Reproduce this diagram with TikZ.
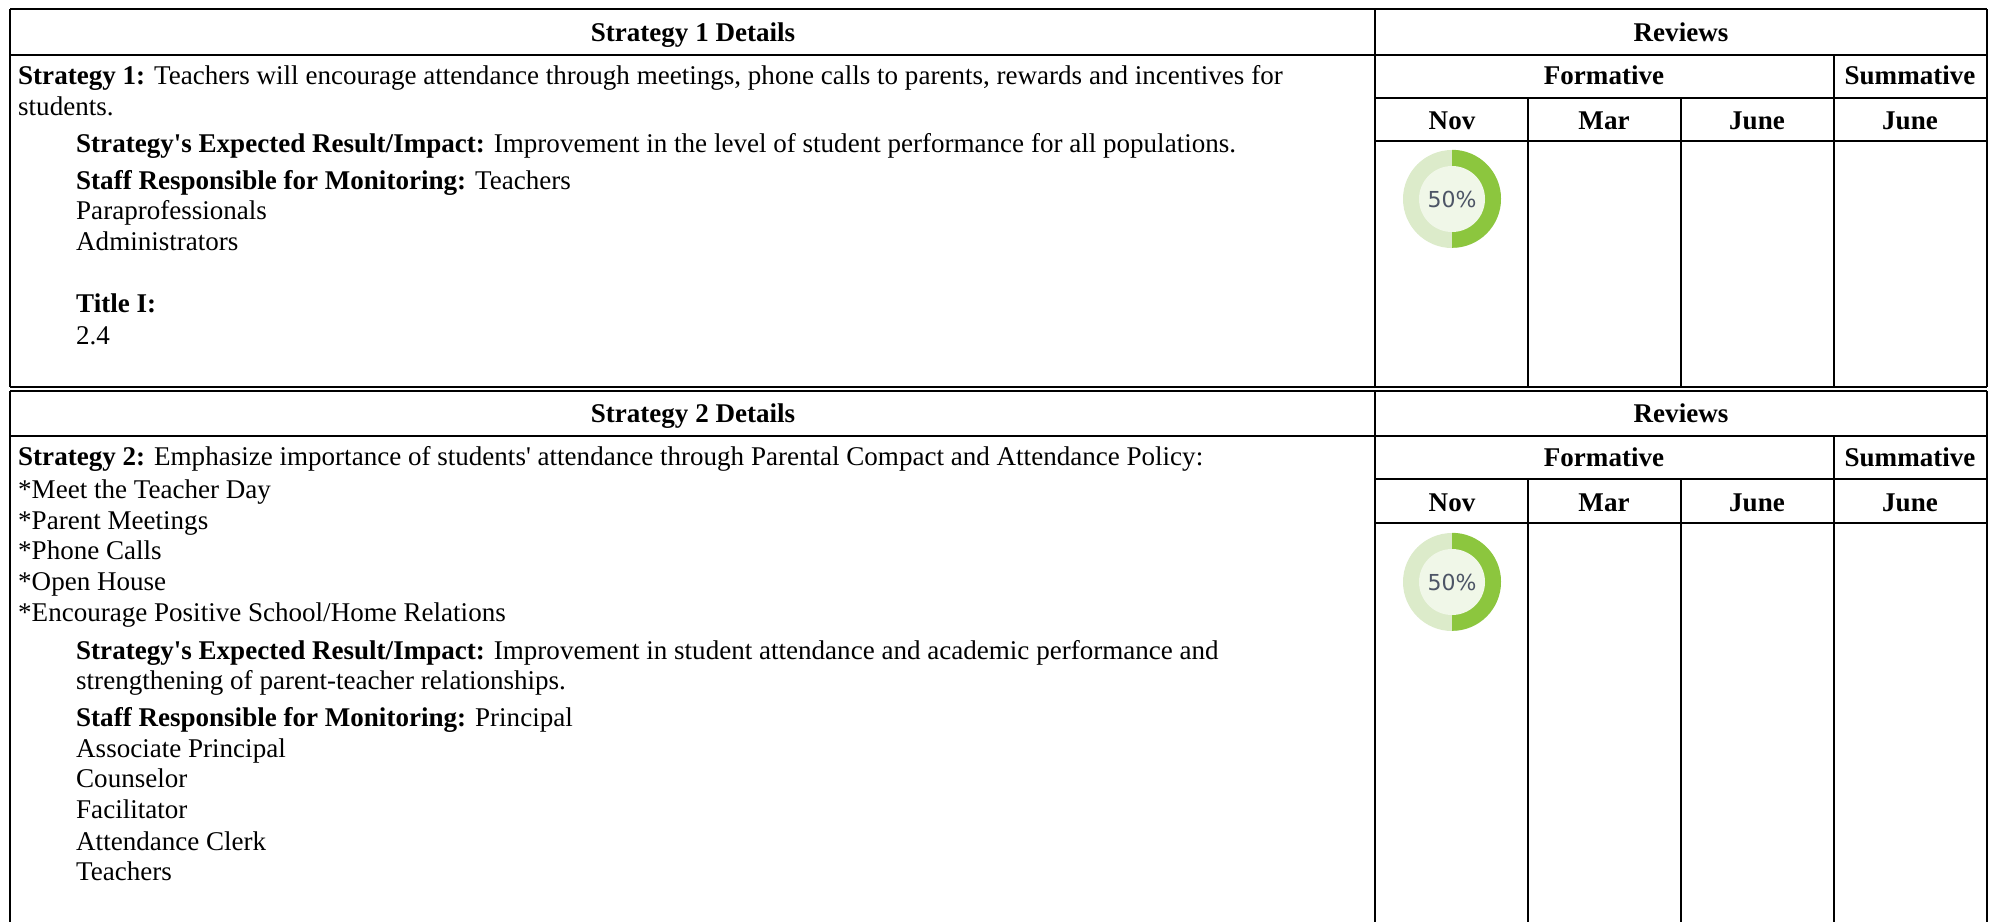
\documentclass[tikz,border=0pt]{standalone}
\usepackage{fontspec}
\setmainfont{Liberation Serif}
\newfontfamily\pctfont{DejaVu Sans}
\definecolor{ringlight}{HTML}{DCEBCA}
\definecolor{ringbright}{HTML}{8CC63E}
\definecolor{ringinner}{HTML}{F0F7E8}
\definecolor{pctgray}{HTML}{4D5566}
\newcommand{\bodysize}{\fontsize{27.05}{30.6}\selectfont}
\begin{document}
\begin{tikzpicture}[x=1pt,y=-1pt,
    grid/.style={line width=1.7pt},
    txt/.style={anchor=base west,inner sep=0pt,font=\bodysize},
    hd/.style={anchor=base,inner sep=0pt,font=\bodysize\bfseries},
    donut/.style={circle,inner sep=0pt,minimum size=98pt,fill=ringlight},
    pct/.style={circle,inner sep=0pt,minimum size=66pt,fill=ringinner,text=pctgray,font=\pctfont\fontsize{22}{22}\selectfont}]
    \useasboundingbox (0,0) rectangle (1997,922);

    % strategy 1
    \draw[grid] (10,9) -- (1987,9);
    \draw[grid] (10,55) -- (1987,55);
    \draw[grid] (1375,98) -- (1987,98);
    \draw[grid] (1375,141) -- (1987,141);
    \draw[grid] (10,387) -- (1987,387);
    \draw[grid] (10,9) -- (10,387);
    \draw[grid] (1375,9) -- (1375,387);
    \draw[grid] (1987,9) -- (1987,387);
    \draw[grid] (1834,55) -- (1834,387);
    \draw[grid] (1528,98) -- (1528,387);
    \draw[grid] (1681,98) -- (1681,387);

    \node[hd] at (693,41) (det1) {Strategy 1 Details};
    \node[hd] at (1681,41) (rev1) {Reviews};
    \node[hd] at (1604,84) (form1) {Formative};
    \node[hd] at (1910,84) (summ1) {Summative};
    \node[hd] at (1452,129) (nov1) {Nov};
    \node[hd] at (1604,129) (mar1) {Mar};
    \node[hd] at (1757,129) (jun1) {June};
    \node[hd] at (1910,129) (sjun1) {June};

    \node[txt] at (18,84) (s1a) {\textbf{Strategy 1:} Teachers will encourage attendance through meetings, phone calls to parents, rewards and incentives for};
    \node[txt] at (18,115) (s1b) {students.};
    \node[txt] at (76,152) (res1) {\textbf{Strategy\textquotesingle s Expected Result/Impact:} Improvement in the level of student performance for all populations.};
    \node[txt] at (76,189) (staff1) {\textbf{Staff Responsible for Monitoring:} Teachers};
    \node[txt] at (76,219) (para1) {Paraprofessionals};
    \node[txt] at (76,250) (adm1) {Administrators};
    \node[txt] at (76,312) (tit1) {\textbf{Title I:}};
    \node[txt] at (76,344) (num1) {2.4};

    \node[donut] at (1452,199) (ring1) {};
    \fill[ringbright] (ring1.north) arc[start angle=90,end angle=-90,radius=49pt] -- cycle;
    \node[pct] at (ring1) (pct1) {50\%};

    % strategy 2
    \draw[grid] (10,391) -- (1987,391);
    \draw[grid] (10,436) -- (1987,436);
    \draw[grid] (1375,479) -- (1987,479);
    \draw[grid] (1375,523) -- (1987,523);
    \draw[grid] (10,391) -- (10,922);
    \draw[grid] (1375,391) -- (1375,922);
    \draw[grid] (1987,391) -- (1987,922);
    \draw[grid] (1834,436) -- (1834,922);
    \draw[grid] (1528,479) -- (1528,922);
    \draw[grid] (1681,479) -- (1681,922);

    \node[hd] at (693,422) (det2) {Strategy 2 Details};
    \node[hd] at (1681,422) (rev2) {Reviews};
    \node[hd] at (1604,466) (form2) {Formative};
    \node[hd] at (1910,466) (summ2) {Summative};
    \node[hd] at (1452,511) (nov2) {Nov};
    \node[hd] at (1604,511) (mar2) {Mar};
    \node[hd] at (1757,511) (jun2) {June};
    \node[hd] at (1910,511) (sjun2) {June};

    \node[txt] at (18,465) (s2a) {\textbf{Strategy 2:} Emphasize importance of students\textquotesingle\ attendance through Parental Compact and Attendance Policy:};
    \node[txt] at (18,498) (s2b) {*Meet the Teacher Day};
    \node[txt] at (18,529) (s2c) {*Parent Meetings};
    \node[txt] at (18,559) (s2d) {*Phone Calls};
    \node[txt] at (18,590) (s2e) {*Open House};
    \node[txt] at (18,621) (s2f) {*Encourage Positive School/Home Relations};
    \node[txt] at (76,659) (res2a) {\textbf{Strategy\textquotesingle s Expected Result/Impact:} Improvement in student attendance and academic performance and};
    \node[txt] at (76,689) (res2b) {strengthening of parent-teacher relationships.};
    \node[txt] at (76,726) (staff2) {\textbf{Staff Responsible for Monitoring:} Principal};
    \node[txt] at (76,757) (asp2) {Associate Principal};
    \node[txt] at (76,787) (cou2) {Counselor};
    \node[txt] at (76,818) (fac2) {Facilitator};
    \node[txt] at (76,850) (clk2) {Attendance Clerk};
    \node[txt] at (76,880) (tch2) {Teachers};

    \node[donut] at (1452,582) (ring2) {};
    \fill[ringbright] (ring2.north) arc[start angle=90,end angle=-90,radius=49pt] -- cycle;
    \node[pct] at (ring2) (pct2) {50\%};
\end{tikzpicture}
\end{document}
